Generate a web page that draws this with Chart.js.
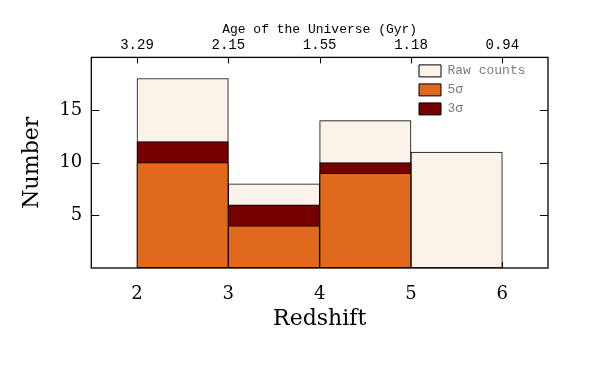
<!DOCTYPE html>
<html>
<head>
<meta charset="utf-8">
<script src="https://cdn.jsdelivr.net/npm/chart.js@4/dist/chart.umd.min.js"></script>
<style>
  html, body { margin: 0; background: #fff; }
  canvas { display: block; }
</style>
</head>
<body>
<canvas id="histChart" width="609" height="381"></canvas>
<script>
// redshift bins (centres), counts per bin
const zBinCenters = [2.5, 3.5, 4.5, 5.5];
const rawCounts = [18, 8, 14, 11];
const threeSigma = [12, 6, 10, 0];
const fiveSigma = [10, 4, 9, 0];
const zTicks = [2, 3, 4, 5, 6];
const ageLabels = ['3.29', '2.15', '1.55', '1.18', '0.94'];
const countTicks = [5, 10, 15];

const COLORS = { raw: '#fbf3ea', five: '#e0691c', three: '#760000' };
const SERIF = '"DejaVu Serif", "Liberation Serif", serif';
const MONO = '"Liberation Mono", "DejaVu Sans Mono", monospace';

function bars(label, vals, color, order) {
  return {
    label,
    // empty bins are left out so no zero-height sliver is drawn
    data: zBinCenters.map((x, i) => ({ x, y: vals[i] || null })),
    backgroundColor: color,
    borderColor: '#000',
    borderWidth: 1,
    borderSkipped: false,
    grouped: false,
    barPercentage: 1,
    categoryPercentage: 1,
    order,
  };
}

function fixedTicks(list) {
  return scale => { scale.ticks = list.map(v => ({ value: v })); };
}

// inward tick marks, plot frame and legend placement inside the plot
const frame = {
  id: 'frame',
  afterLayout(chart) {
    const lg = chart.legend, ca = chart.chartArea;
    if (!lg) return;
    lg.left = ca.right - 135;
    lg.right = ca.right;
    lg.top = ca.top + 1;
    lg.bottom = ca.bottom;
  },
  beforeDatasetsDraw(chart) {
    const { ctx, chartArea: ca, scales } = chart;
    ctx.save();
    ctx.strokeStyle = '#000';
    ctx.lineWidth = 1;
    ctx.beginPath();
    for (const t of scales.x.ticks) {
      const px = Math.round(scales.x.getPixelForValue(t.value)) + 0.5;
      ctx.moveTo(px, ca.top); ctx.lineTo(px, ca.top + 6);
      ctx.moveTo(px, ca.bottom); ctx.lineTo(px, ca.bottom - 6);
    }
    for (const t of scales.y.ticks) {
      const py = Math.round(scales.y.getPixelForValue(t.value)) + 0.5;
      ctx.moveTo(ca.left, py); ctx.lineTo(ca.left + 8, py);
      ctx.moveTo(ca.right, py); ctx.lineTo(ca.right - 8, py);
    }
    ctx.stroke();
    ctx.restore();
  },
  afterDatasetsDraw(chart) {
    const { ctx, chartArea: ca } = chart;
    ctx.save();
    ctx.strokeStyle = '#000';
    ctx.lineWidth = 1.3;
    ctx.strokeRect(ca.left, ca.top, ca.right - ca.left, ca.bottom - ca.top);
    ctx.restore();
  }
};

new Chart(document.getElementById('histChart'), {
  type: 'bar',
  data: {
    datasets: [
      bars('Raw counts', rawCounts, COLORS.raw, 3),
      bars('5σ', fiveSigma, COLORS.five, 1),
      bars('3σ', threeSigma, COLORS.three, 2),
    ]
  },
  options: {
    responsive: false,
    animation: false,
    devicePixelRatio: 1,
    layout: { padding: { top: 22, left: 19, right: 61, bottom: 49 } },
    plugins: {
      tooltip: { enabled: false },
      legend: {
        position: 'chartArea',
        align: 'start',
        labels: {
          boxWidth: 22, boxHeight: 12, padding: 6,
          color: '#7a7a7a',
          font: { family: MONO, size: 13 },
          sort: (a, b) => a.datasetIndex - b.datasetIndex,
        }
      }
    },
    scales: {
      x: {
        type: 'linear', position: 'bottom', min: 1.5, max: 6.5, offset: false,
        afterBuildTicks: fixedTicks(zTicks),
        grid: { display: false, drawTicks: false, offset: false },
        border: { display: false },
        ticks: { color: '#000', padding: 16, font: { family: SERIF, size: 18 } },
        title: { display: true, text: 'Redshift', color: '#000', padding: { top: -16, bottom: 0 },
                 font: { family: SERIF, size: 22 } }
      },
      x2: {
        type: 'linear', position: 'top', min: 1.5, max: 6.5, offset: false,
        afterBuildTicks: fixedTicks(zTicks),
        grid: { display: false, drawTicks: false, offset: false },
        border: { display: false },
        ticks: { color: '#000', padding: 4, font: { family: MONO, size: 14 },
                 callback: (v) => ageLabels[zTicks.indexOf(v)] },
        title: { display: true, text: 'Age of the Universe (Gyr)', color: '#000',
                 padding: { top: 0, bottom: -5 }, font: { family: MONO, size: 13 } }
      },
      y: {
        min: 0, max: 20,
        afterBuildTicks: fixedTicks(countTicks),
        grid: { display: false, drawTicks: false },
        border: { display: false },
        ticks: { color: '#000', padding: 9, font: { family: SERIF, size: 18 } },
        title: { display: true, text: 'Number', color: '#000', padding: { top: 0, bottom: 5 },
                 font: { family: SERIF, size: 22 } }
      }
    }
  },
  plugins: [frame]
});
</script>
</body>
</html>
